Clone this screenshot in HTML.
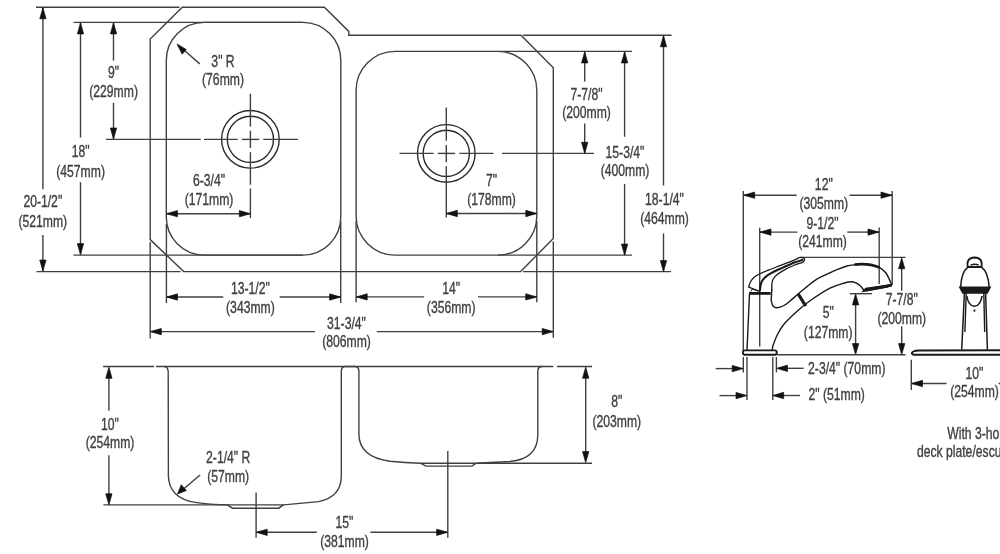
<!DOCTYPE html>
<html><head><meta charset="utf-8"><style>
html,body{margin:0;padding:0;background:#fff;}
svg{display:block;}

</style></head><body>
<svg width="1000" height="554" viewBox="0 0 1000 554">
<rect width="1000" height="554" fill="#fff"/>
<g fill="none" stroke="#404040" stroke-width="1.4" stroke-linecap="butt">
<path d="M182.3,7.2 L324.4,7.2 L348.8,31.4 L348.8,35.3 L521,35.3 L553.3,67.7 L553.3,238.5 L520.6,271.6 L183.7,271.6 L150.2,239.6 L150.2,39 Z"/>
<line x1="36" y1="7.2" x2="179.5" y2="7.2"/>
<line x1="523" y1="35.3" x2="671.5" y2="35.3"/>
<line x1="73.5" y1="22.4" x2="302.8" y2="22.4"/>
<line x1="497.8" y1="51.4" x2="632" y2="51.4"/>
<line x1="36.5" y1="271.6" x2="180.5" y2="271.6"/>
<line x1="523" y1="271.6" x2="671" y2="271.6"/>
<line x1="73.5" y1="255.1" x2="302.8" y2="255.1"/>
<line x1="497.8" y1="255.1" x2="632" y2="255.1"/>
<path d="M204.3,22.4 L302.8,22.4 A38,38 0 0 1 340.8,60.4 L340.8,217.1 A38,38 0 0 1 302.8,255.1 L204.3,255.1 A38,38 0 0 1 166.3,217.1 L166.3,60.4 A38,38 0 0 1 204.3,22.4 Z"/>
<path d="M395.1,51.4 L497.79999999999995,51.4 A39,39 0 0 1 536.8,90.4 L536.8,216.1 A39,39 0 0 1 497.79999999999995,255.1 L395.1,255.1 A39,39 0 0 1 356.1,216.1 L356.1,90.4 A39,39 0 0 1 395.1,51.4 Z"/>
<circle cx="250.4" cy="139.3" r="28.8" stroke-width="1.4" stroke="#2a2a2a"/>
<circle cx="250.4" cy="139.3" r="23.1" stroke-width="1.4" stroke="#2a2a2a"/>
<circle cx="446.3" cy="153.4" r="28.8" stroke-width="1.4" stroke="#2a2a2a"/>
<circle cx="446.3" cy="153.4" r="23.1" stroke-width="1.4" stroke="#2a2a2a"/>
<line x1="105.9" y1="139.4" x2="200.8" y2="139.4"/>
<line x1="204" y1="139.4" x2="237.7" y2="139.4"/>
<line x1="241.9" y1="139.4" x2="259.2" y2="139.4"/>
<line x1="263.3" y1="139.4" x2="298" y2="139.4"/>
<line x1="250.4" y1="93.7" x2="250.4" y2="126.6"/>
<line x1="250.4" y1="130.8" x2="250.4" y2="148.1"/>
<line x1="250.4" y1="152.2" x2="250.4" y2="184.7"/>
<line x1="250.4" y1="188.5" x2="250.4" y2="218"/>
<line x1="399.5" y1="153.4" x2="433.6" y2="153.4"/>
<line x1="437.8" y1="153.4" x2="455.1" y2="153.4"/>
<line x1="459.2" y1="153.4" x2="493.5" y2="153.4"/>
<line x1="502" y1="153.4" x2="594" y2="153.4"/>
<line x1="446.3" y1="107.5" x2="446.3" y2="140.7"/>
<line x1="446.3" y1="144.9" x2="446.3" y2="162.2"/>
<line x1="446.3" y1="166.3" x2="446.3" y2="217.5"/>
<line x1="42.9" y1="8" x2="42.9" y2="189.2"/>
<line x1="42.9" y1="235" x2="42.9" y2="271"/>
<polygon class="ah" points="42.90,7.80 39.75,18.80 46.05,18.80"/>
<polygon class="ah" points="42.90,271.00 39.75,260.00 46.05,260.00"/>
<line x1="80.5" y1="23" x2="80.5" y2="137.6"/>
<line x1="80.5" y1="182.2" x2="80.5" y2="254.5"/>
<polygon class="ah" points="80.50,22.90 77.35,33.90 83.65,33.90"/>
<polygon class="ah" points="80.50,254.60 77.35,243.60 83.65,243.60"/>
<line x1="113.5" y1="23" x2="113.5" y2="60.6"/>
<line x1="113.5" y1="102.8" x2="113.5" y2="138.5"/>
<polygon class="ah" points="113.50,22.90 110.35,33.90 116.65,33.90"/>
<polygon class="ah" points="113.50,139.00 110.35,128.00 116.65,128.00"/>
<line x1="199.8" y1="63.9" x2="181" y2="47.5"/>
<polygon class="ah" points="177,43.9 186.3,49.6 182.2,54.2"/>
<line x1="166.5" y1="213.7" x2="250.4" y2="213.7"/>
<polygon class="ah" points="166.50,213.70 177.50,210.55 177.50,216.85"/>
<polygon class="ah" points="250.40,213.70 239.40,210.55 239.40,216.85"/>
<line x1="446.3" y1="213.5" x2="536.8" y2="213.5"/>
<polygon class="ah" points="446.30,213.50 457.30,210.35 457.30,216.65"/>
<polygon class="ah" points="536.80,213.50 525.80,210.35 525.80,216.65"/>
<line x1="584.7" y1="52" x2="584.7" y2="81.4"/>
<line x1="584.7" y1="123.5" x2="584.7" y2="153"/>
<polygon class="ah" points="584.70,51.90 581.55,62.90 587.85,62.90"/>
<polygon class="ah" points="584.70,153.30 581.55,142.30 587.85,142.30"/>
<line x1="624.6" y1="52" x2="624.6" y2="136.8"/>
<line x1="624.6" y1="183.9" x2="624.6" y2="255"/>
<polygon class="ah" points="624.60,51.90 621.45,62.90 627.75,62.90"/>
<polygon class="ah" points="624.60,255.10 621.45,244.10 627.75,244.10"/>
<line x1="663.5" y1="36" x2="663.5" y2="185.5"/>
<line x1="663.5" y1="233.4" x2="663.5" y2="271.5"/>
<polygon class="ah" points="663.50,35.80 660.35,46.80 666.65,46.80"/>
<polygon class="ah" points="663.50,271.60 660.35,260.60 666.65,260.60"/>
<line x1="150.2" y1="242" x2="150.2" y2="338.6"/>
<line x1="166.4" y1="224" x2="166.4" y2="303"/>
<line x1="340.7" y1="221" x2="340.7" y2="303"/>
<line x1="356.1" y1="221" x2="356.1" y2="302.2"/>
<line x1="536.8" y1="221" x2="536.8" y2="302.2"/>
<line x1="553.3" y1="241.5" x2="553.3" y2="337.8"/>
<line x1="166.5" y1="297" x2="223.2" y2="297"/>
<line x1="279.7" y1="297" x2="340.6" y2="297"/>
<polygon class="ah" points="166.50,297.00 177.50,293.85 177.50,300.15"/>
<polygon class="ah" points="340.60,297.00 329.60,293.85 329.60,300.15"/>
<line x1="356.2" y1="296.9" x2="424" y2="296.9"/>
<line x1="478" y1="296.9" x2="536.7" y2="296.9"/>
<polygon class="ah" points="356.20,296.90 367.20,293.75 367.20,300.05"/>
<polygon class="ah" points="536.70,296.90 525.70,293.75 525.70,300.05"/>
<line x1="150.3" y1="331.6" x2="315" y2="331.6"/>
<line x1="376.8" y1="331.6" x2="553.2" y2="331.6"/>
<polygon class="ah" points="150.30,331.60 161.30,328.45 161.30,334.75"/>
<polygon class="ah" points="553.20,331.60 542.20,328.45 542.20,334.75"/>
<line x1="103" y1="366.5" x2="154" y2="366.5"/>
<line x1="156" y1="366.5" x2="553.3" y2="366.5"/>
<line x1="557" y1="366.5" x2="592" y2="366.5"/>
<line x1="103.4" y1="504.9" x2="228" y2="504.9"/>
<line x1="477" y1="463.2" x2="592" y2="463.2"/>
<path d="M164,366.5 Q167.8,366.5 168.2,371.5 L168.4,476 Q169,498 195,502.4 Q210,504.6 228,504.9 L283.5,504.9 L318.7,501.6 Q341,497 341.3,476.5 L341.3,371 Q341.5,366.5 345,366.5 L355,366.5 Q358.7,366.5 358.9,371 L358.9,434 Q359,457 390,461.3 Q405,463 420.2,463.2 L476.3,463.2 L510,461.5 Q537.6,459 537.8,435 L537.8,371 Q538,366.5 542.3,366.5"/>
<path d="M227.4,504.9 L232.4,508.2 L278.6,508.2 L283.5,504.9"/>
<path d="M420.4,463.2 L425.9,466.1 L471.8,466.1 L476.3,463.2"/>
<line x1="108.9" y1="378" x2="108.9" y2="410.8"/>
<line x1="108.9" y1="455.2" x2="108.9" y2="494"/>
<polygon class="ah" points="108.90,367.30 105.75,378.30 112.05,378.30"/>
<polygon class="ah" points="108.90,504.80 105.75,493.80 112.05,493.80"/>
<line x1="200.1" y1="475" x2="183" y2="489.5"/>
<polygon class="ah" points="177.5,493.9 181.2,484.8 186.4,490.5"/>
<line x1="256.1" y1="492.5" x2="256.1" y2="537.7"/>
<line x1="447.8" y1="451" x2="447.8" y2="537.7"/>
<line x1="256.5" y1="532.3" x2="316.8" y2="532.3"/>
<line x1="370.4" y1="532.3" x2="447.5" y2="532.3"/>
<polygon class="ah" points="256.20,532.30 267.20,529.15 267.20,535.45"/>
<polygon class="ah" points="447.70,532.30 436.70,529.15 436.70,535.45"/>
<line x1="585.7" y1="378" x2="585.7" y2="452"/>
<polygon class="ah" points="585.70,367.20 582.55,378.20 588.85,378.20"/>
<polygon class="ah" points="585.70,462.60 582.55,451.60 588.85,451.60"/>
<line x1="743.3" y1="191" x2="743.3" y2="350.5"/>
<line x1="892.2" y1="191" x2="892.2" y2="285"/>
<line x1="743.7" y1="195.2" x2="796.6" y2="195.2"/>
<line x1="849.5" y1="195.2" x2="892" y2="195.2"/>
<polygon class="ah" points="743.70,195.20 754.70,192.05 754.70,198.35"/>
<polygon class="ah" points="892.00,195.20 881.00,192.05 881.00,198.35"/>
<line x1="759.7" y1="227.7" x2="759.7" y2="346.5"/>
<line x1="879.2" y1="227.6" x2="879.2" y2="284"/>
<line x1="760" y1="232.1" x2="797.4" y2="232.1"/>
<line x1="847.3" y1="232.1" x2="879" y2="232.1"/>
<polygon class="ah" points="760.00,232.10 771.00,228.95 771.00,235.25"/>
<polygon class="ah" points="879.00,232.10 868.00,228.95 868.00,235.25"/>
<line x1="800.6" y1="257.4" x2="905.6" y2="257.4"/>
<line x1="901.7" y1="268" x2="901.7" y2="290.8"/>
<line x1="901.7" y1="326.2" x2="901.7" y2="344"/>
<polygon class="ah" points="901.70,257.80 898.55,268.80 904.85,268.80"/>
<polygon class="ah" points="901.70,354.60 898.55,343.60 904.85,343.60"/>
<line x1="849.8" y1="293.7" x2="872" y2="293.7"/>
<line x1="855.6" y1="305" x2="855.6" y2="344"/>
<polygon class="ah" points="855.60,293.90 852.45,304.90 858.75,304.90"/>
<polygon class="ah" points="855.60,354.60 852.45,343.60 858.75,343.60"/>
<line x1="776.9" y1="354.8" x2="905.5" y2="354.8"/>
<line x1="743.3" y1="357" x2="743.3" y2="372.4"/>
<line x1="776.4" y1="357" x2="776.4" y2="372.4"/>
<line x1="747" y1="357" x2="747" y2="400"/>
<line x1="772.8" y1="357" x2="772.8" y2="400"/>
<line x1="715.7" y1="368.6" x2="732" y2="368.6"/>
<polygon class="ah" points="743.20,368.60 732.20,365.45 732.20,371.75"/>
<line x1="787" y1="368.3" x2="803.6" y2="368.3"/>
<polygon class="ah" points="776.50,368.30 787.50,365.15 787.50,371.45"/>
<line x1="719.5" y1="395.6" x2="736" y2="395.6"/>
<polygon class="ah" points="747.00,395.60 736.00,392.45 736.00,398.75"/>
<line x1="783" y1="395.5" x2="800.1" y2="395.5"/>
<polygon class="ah" points="772.70,395.50 783.70,392.35 783.70,398.65"/>
<path d="M749.5,293.8 L747,350.3" stroke="#1a1a1a" stroke-width="1.4"/>
<path d="M744.6,350.4 L774.8,350.4 Q776.8,350.4 776.8,352.6 Q776.8,354.8 774.8,354.8 L744.6,354.8 Q742.9,354.8 742.9,352.6 Q742.9,350.4 744.6,350.4 Z" stroke="#1a1a1a" stroke-width="1.9"/>
<path d="M772.2,350 L772.7,346.4  C773.42,344.58 775.20,339.12 777,335.5 C778.80,331.88 780.15,328.75 783.5,324.7 C786.85,320.65 792.57,315.27 797.1,311.2 C801.63,307.13 805.22,304.15 810.7,300.3 C816.18,296.45 824.38,290.98 830,288.1 C835.62,285.22 840.83,284.05 844.4,283 C847.97,281.95 849.47,281.80 851.4,281.8 C853.33,281.80 854.57,282.37 856,283 C857.43,283.63 858.60,284.32 860,285.6 C861.40,286.88 863.67,289.85 864.4,290.7" stroke="#1a1a1a" stroke-width="1.4"/>
<path d="M771.8,289 L771.6,292.5 L771.2,300.5  C771.50,301.42 772.03,304.78 773,306 C773.97,307.22 775.17,307.88 777,307.8 C778.83,307.72 781.83,306.63 784,305.5 C786.17,304.37 787.75,302.83 790,301 C792.25,299.17 795.00,296.62 797.5,294.5 C800.00,292.38 802.08,290.67 805,288.3 C807.92,285.93 811.50,282.58 815,280.3 C818.50,278.02 822.33,276.38 826,274.6 C829.67,272.82 833.50,271.03 837,269.6 C840.50,268.17 844.00,266.82 847,266 C850.00,265.18 852.38,265.03 855,264.7 C857.62,264.37 859.87,263.95 862.7,264.0 C865.53,264.05 869.28,264.47 872,265 C874.72,265.53 876.67,265.87 879,267.2 C881.33,268.53 883.85,270.00 886,273 C888.15,276.00 890.92,283.17 891.9,285.2" stroke="#1a1a1a" stroke-width="1.4"/>
<path d="M854.6,264.6 C864,263.5 872,264.5 879.5,267.5" stroke="#1a1a1a" stroke-width="2.8"/>
<path d="M891.9,285.2 L864.4,290.6 L866,288.8 Z" stroke="#1a1a1a" stroke-width="2.4" fill="#1a1a1a"/>
<path d="M866,290 L888,286" stroke="#1a1a1a" stroke-width="3.2"/>
<path d="M797.9,293.7 L805.8,306" stroke="#1a1a1a" stroke-width="3.2"/>
<path d="M749,293.4 L770.6,293.4" stroke="#1a1a1a" stroke-width="2.8"/>
<path d="M799.8,257.4 C798.13,258.15 793.12,260.52 789.8,261.9 C786.48,263.28 783.20,264.43 779.9,265.7 C776.60,266.97 773.42,268.12 770,269.5 C766.58,270.88 762.05,272.70 759.4,274 C756.75,275.30 755.62,275.92 754.1,277.3 C752.58,278.68 751.20,280.65 750.3,282.3 C749.40,283.95 748.97,286.38 748.7,287.2 L759.5,291.3" stroke="#1a1a1a" stroke-width="1.3"/>
<path d="M750.8,291.5 L752.5,289 L758,291" stroke="#1a1a1a" stroke-width="1.0"/>
<path d="M759.8,291 C759.98,289.82 760.33,285.85 760.9,283.9 C761.47,281.95 762.05,280.77 763.2,279.3 C764.35,277.83 765.78,276.48 767.8,275.1 C769.82,273.72 772.78,272.25 775.3,271 C777.82,269.75 779.73,269.00 782.9,267.6 C786.07,266.20 790.95,263.93 794.3,262.6 C797.65,261.27 801.55,260.10 803,259.6" stroke="#1a1a1a" stroke-width="2.1"/>
<path d="M799.8,257.4 C803,257 805.5,258.5 804.2,260.5 C803.8,261.5 803,262.2 802,262.7" stroke="#1a1a1a" stroke-width="1.4"/>
<path d="M802,262.7 C800.60,263.17 796.52,264.30 793.6,265.5 C790.68,266.70 787.28,268.35 784.5,269.9 C781.72,271.45 778.80,273.23 776.9,274.8 C775.00,276.37 773.93,277.78 773.1,279.3 C772.27,280.82 772.12,282.12 771.9,283.9 C771.68,285.68 771.82,288.98 771.8,290" stroke="#1a1a1a" stroke-width="1.3"/>
<line x1="911.3" y1="359.7" x2="911.3" y2="390"/>
<line x1="911.5" y1="383.5" x2="946.5" y2="383.5"/>
<polygon class="ah" points="911.50,383.50 922.50,380.35 922.50,386.65"/>
<line x1="998.6" y1="383.5" x2="1000" y2="383.5"/>
<path d="M913.6,354.7 Q911.9,354.7 912,352.8 Q912.6,350.7 919,350.4 L1002,350.2 L1002,354.7 Z" stroke="#1a1a1a" stroke-width="2.0"/>
<path d="M964.4,293 L961.7,349.6 M985.6,293 L987.4,349.6" stroke="#1a1a1a" stroke-width="1.5"/>
<path d="M966.2,293 L964.9,332 M983.8,293 L984.7,332" stroke="#1a1a1a" stroke-width="1.4"/>
<path d="M960.6,288 C961,277 964,270 968,267.2 L981.5,267.2 C985.5,270 988.6,277 989.2,288" stroke="#1a1a1a" stroke-width="1.6"/>
<path d="M960.4,287.6 L989.6,287.6 L987,292.6 L963,292.6 Z" stroke="#1a1a1a" stroke-width="2.2" fill="#1a1a1a"/>
<path d="M967.8,267 C966.6,262 968,257.6 974.6,257.4 C981.2,257.6 982.6,262 981.4,267 Z" stroke="#1a1a1a" stroke-width="2.0"/>
<path d="M970.5,265.2 Q974.6,263.2 978.7,265.2" stroke="#1a1a1a" stroke-width="1.4"/>
<path d="M966.8,296 C967.5,302 970.5,306.3 974.4,306.3 C978.3,306.3 981.3,302 982,296" stroke="#1a1a1a" stroke-width="1.6"/>
<circle cx="974.4" cy="310.7" r="1.1" fill="#1a1a1a" stroke="none"/>
</g>
<style>.ah{fill:#111;stroke:#111;stroke-width:0.7;stroke-linejoin:round}</style>
<g fill="#404040" stroke="#404040" stroke-width="0.35" font-family="Liberation Sans, sans-serif" style="will-change:transform">
<text transform="translate(42.8,206.70) scale(0.781,1)" text-anchor="middle" font-size="15.6">20-1/2&quot;</text>
<text transform="translate(42.8,226.60) scale(0.781,1)" text-anchor="middle" font-size="15.6">(521mm)</text>
<text transform="translate(80.6,157.00) scale(0.781,1)" text-anchor="middle" font-size="15.6">18&quot;</text>
<text transform="translate(80.6,176.90) scale(0.781,1)" text-anchor="middle" font-size="15.6">(457mm)</text>
<text transform="translate(113.6,77.80) scale(0.781,1)" text-anchor="middle" font-size="15.6">9&quot;</text>
<text transform="translate(113.6,96.80) scale(0.781,1)" text-anchor="middle" font-size="15.6">(229mm)</text>
<text transform="translate(223,66.50) scale(0.781,1)" text-anchor="middle" font-size="15.6">3&quot; R</text>
<text transform="translate(223,85.40) scale(0.781,1)" text-anchor="middle" font-size="15.6">(76mm)</text>
<text transform="translate(209,186.30) scale(0.781,1)" text-anchor="middle" font-size="15.6">6-3/4&quot;</text>
<text transform="translate(209,204.90) scale(0.781,1)" text-anchor="middle" font-size="15.6">(171mm)</text>
<text transform="translate(491.5,185.50) scale(0.781,1)" text-anchor="middle" font-size="15.6">7&quot;</text>
<text transform="translate(491.5,204.70) scale(0.781,1)" text-anchor="middle" font-size="15.6">(178mm)</text>
<text transform="translate(586.5,99.50) scale(0.781,1)" text-anchor="middle" font-size="15.6">7-7/8&quot;</text>
<text transform="translate(586.5,118.20) scale(0.781,1)" text-anchor="middle" font-size="15.6">(200mm)</text>
<text transform="translate(625,157.70) scale(0.781,1)" text-anchor="middle" font-size="15.6">15-3/4&quot;</text>
<text transform="translate(625,176.00) scale(0.781,1)" text-anchor="middle" font-size="15.6">(400mm)</text>
<text transform="translate(664.5,204.80) scale(0.781,1)" text-anchor="middle" font-size="15.6">18-1/4&quot;</text>
<text transform="translate(664.5,223.80) scale(0.781,1)" text-anchor="middle" font-size="15.6">(464mm)</text>
<text transform="translate(250.4,294.30) scale(0.781,1)" text-anchor="middle" font-size="15.6">13-1/2&quot;</text>
<text transform="translate(250.4,312.70) scale(0.781,1)" text-anchor="middle" font-size="15.6">(343mm)</text>
<text transform="translate(451.2,294.00) scale(0.781,1)" text-anchor="middle" font-size="15.6">14&quot;</text>
<text transform="translate(451.2,313.00) scale(0.781,1)" text-anchor="middle" font-size="15.6">(356mm)</text>
<text transform="translate(346.5,328.70) scale(0.781,1)" text-anchor="middle" font-size="15.6">31-3/4&quot;</text>
<text transform="translate(346.5,346.80) scale(0.781,1)" text-anchor="middle" font-size="15.6">(806mm)</text>
<text transform="translate(110,429.60) scale(0.781,1)" text-anchor="middle" font-size="15.6">10&quot;</text>
<text transform="translate(110,448.40) scale(0.781,1)" text-anchor="middle" font-size="15.6">(254mm)</text>
<text transform="translate(228.2,463.40) scale(0.781,1)" text-anchor="middle" font-size="15.6">2-1/4&quot; R</text>
<text transform="translate(228.2,482.40) scale(0.781,1)" text-anchor="middle" font-size="15.6">(57mm)</text>
<text transform="translate(344.5,528.00) scale(0.781,1)" text-anchor="middle" font-size="15.6">15&quot;</text>
<text transform="translate(344.5,547.20) scale(0.781,1)" text-anchor="middle" font-size="15.6">(381mm)</text>
<text transform="translate(616.8,407.20) scale(0.781,1)" text-anchor="middle" font-size="15.6">8&quot;</text>
<text transform="translate(616.8,426.50) scale(0.781,1)" text-anchor="middle" font-size="15.6">(203mm)</text>
<text transform="translate(823.8,189.60) scale(0.781,1)" text-anchor="middle" font-size="15.6">12&quot;</text>
<text transform="translate(823.8,208.60) scale(0.781,1)" text-anchor="middle" font-size="15.6">(305mm)</text>
<text transform="translate(822.5,229.20) scale(0.781,1)" text-anchor="middle" font-size="15.6">9-1/2&quot;</text>
<text transform="translate(822.5,247.30) scale(0.781,1)" text-anchor="middle" font-size="15.6">(241mm)</text>
<text transform="translate(901.8,305.10) scale(0.781,1)" text-anchor="middle" font-size="15.6">7-7/8&quot;</text>
<text transform="translate(901.8,324.30) scale(0.781,1)" text-anchor="middle" font-size="15.6">(200mm)</text>
<text transform="translate(828.2,318.20) scale(0.781,1)" text-anchor="middle" font-size="15.6">5&quot;</text>
<text transform="translate(828.2,337.80) scale(0.781,1)" text-anchor="middle" font-size="15.6">(127mm)</text>
<text transform="translate(808.1,373.60) scale(0.781,1)" text-anchor="start" font-size="15.6">2-3/4&quot; (70mm)</text>
<text transform="translate(808.5,399.50) scale(0.781,1)" text-anchor="start" font-size="15.6">2&quot; (51mm)</text>
<text transform="translate(974.5,379.00) scale(0.781,1)" text-anchor="middle" font-size="15.6">10&quot;</text>
<text transform="translate(974.5,397.40) scale(0.781,1)" text-anchor="middle" font-size="15.6">(254mm)</text>
<text transform="translate(947.2,438.50) scale(0.781,1)" text-anchor="start" font-size="15.6">With 3-hole</text>
<text transform="translate(916.9,456.90) scale(0.781,1)" text-anchor="start" font-size="15.6">deck plate/escutcheon</text>
</g>
</svg>
</body></html>
